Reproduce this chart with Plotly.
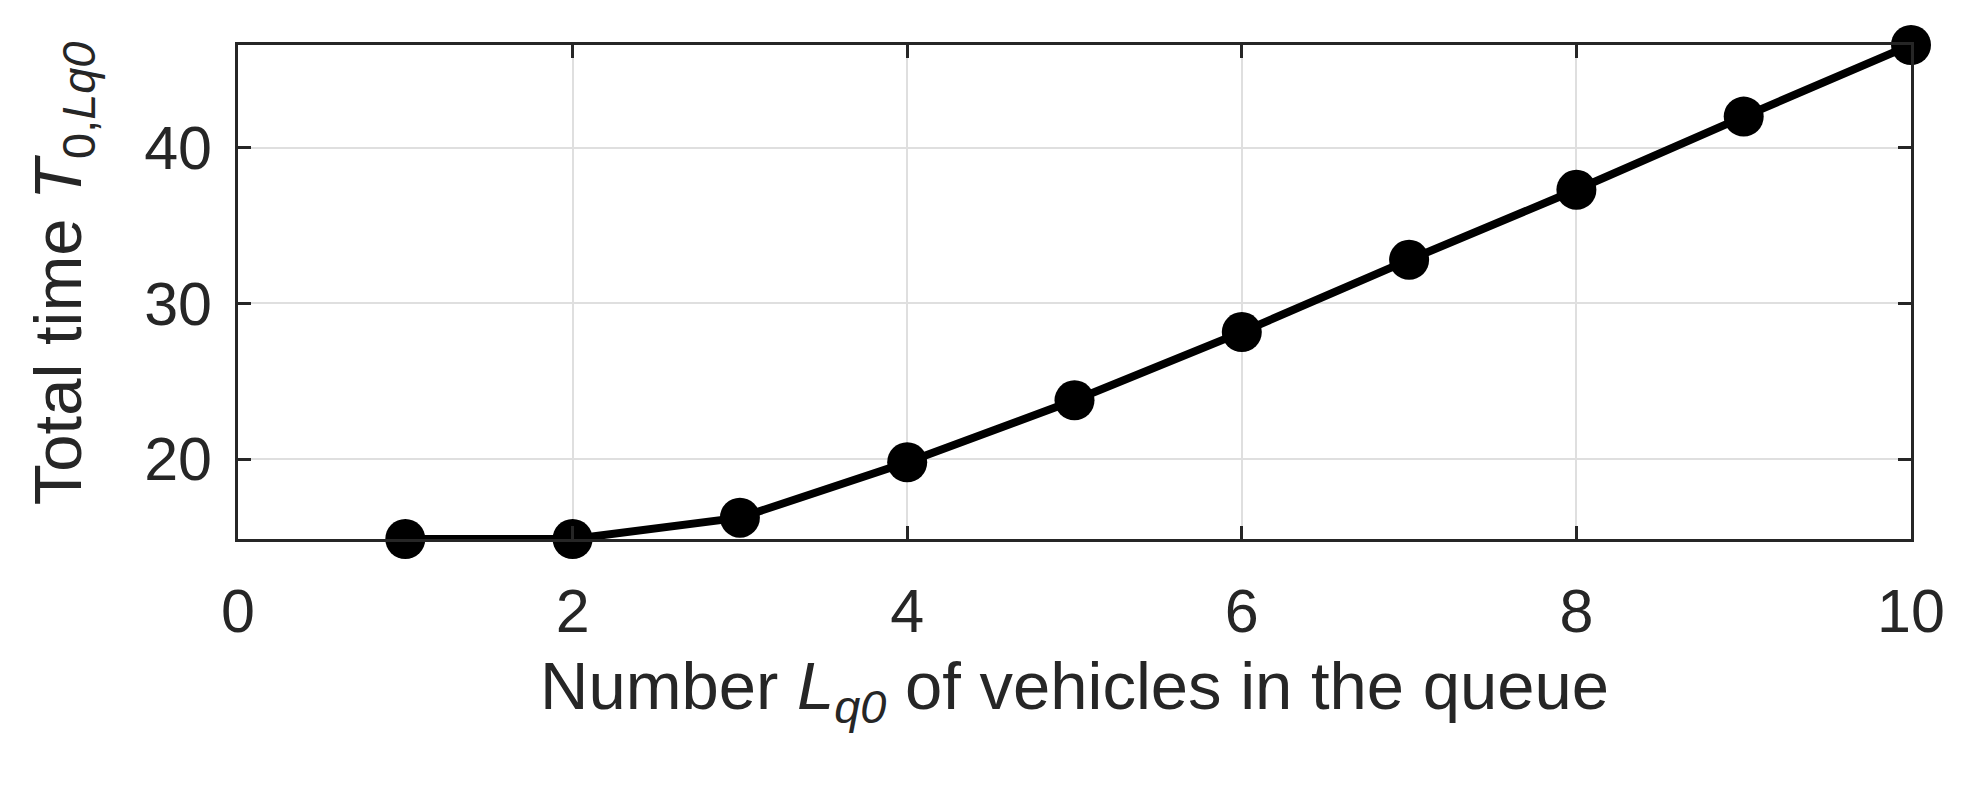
import plotly.graph_objects as go

queue_length = [1, 2, 3, 4, 5, 6, 7, 8, 9, 10]
total_time = [14.87, 14.87, 16.24, 19.8, 23.78, 28.16, 32.8, 37.3, 42.0, 46.6]
x_ticks = [0, 2, 4, 6, 8, 10]
y_ticks = [20, 30, 40]

AX = "#262626"
GRID = "#dfdfdf"
FONT = "Liberation Sans, Arial, sans-serif"

fig = go.Figure()
fig.add_trace(go.Scatter(
    x=queue_length, y=total_time, mode="lines+markers",
    line=dict(color="black", width=8),
    marker=dict(color="black", size=40, symbol="circle"),
    cliponaxis=False, showlegend=False,
))

axis_common = dict(
    showline=True, linecolor=AX, linewidth=2.5, mirror="ticks",
    ticks="inside", ticklen=13, tickwidth=2.5, tickcolor=AX,
    showgrid=True, gridcolor=GRID, gridwidth=2, zeroline=False,
    tickfont=dict(family=FONT, size=61, color=AX),
)

fig.update_xaxes(
    range=[0, 10], tickvals=x_ticks, ticklabelstandoff=17,
    title=dict(text="Number <i>L</i><sub><i>q0</i></sub> of vehicles in the queue",
               font=dict(family=FONT, size=67, color=AX), standoff=19),
    **axis_common,
)
fig.update_yaxes(
    range=[min(total_time), max(total_time)], tickvals=y_ticks, ticklabelstandoff=11,
    title=dict(text="&nbsp;&nbsp;Total time <i>T</i><sub>0,<i>Lq0</i></sub>",
               font=dict(family=FONT, size=67, color=AX), standoff=41),
    **axis_common,
)

fig.update_layout(
    width=1962, height=776,
    margin=dict(l=230, r=59, t=37, b=245, autoexpand=False),
    paper_bgcolor="white", plot_bgcolor="white",
)
fig.write_html("out.html")
